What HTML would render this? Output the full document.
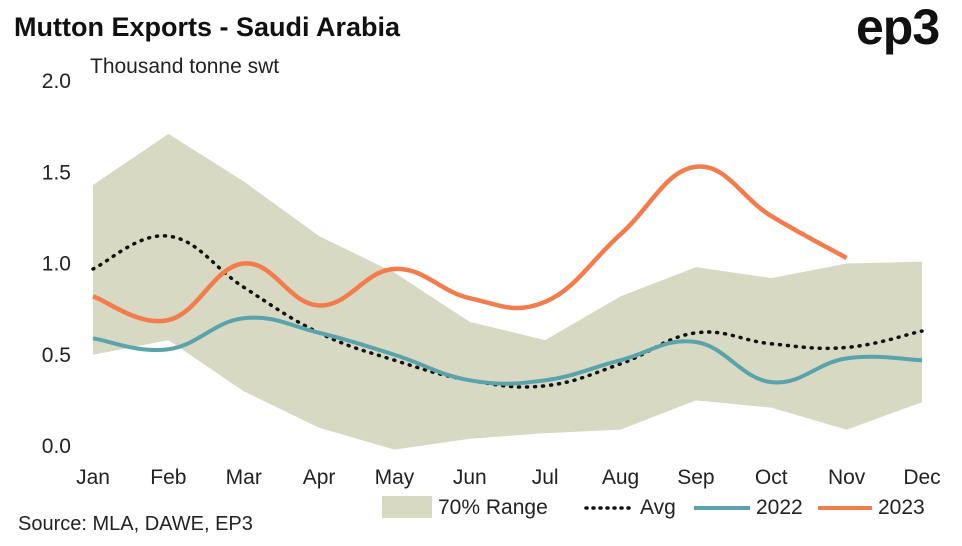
<!DOCTYPE html>
<html><head><meta charset="utf-8"><style>
body{margin:0;background:#fff;font-family:"Liberation Sans",sans-serif;}
svg text{font-family:"Liberation Sans",sans-serif;}
</style></head><body>
<svg id="c" width="962" height="541">
<text x="14" y="36" font-size="27" font-weight="bold" fill="#111">Mutton Exports - Saudi Arabia</text>
<text x="856" y="44" font-size="50" font-weight="bold" fill="#111" letter-spacing="-1">ep3</text>
<text x="90" y="73" font-size="21" fill="#222">Thousand tonne swt</text>
<text x="18" y="530" font-size="20" fill="#222">Source: MLA, DAWE, EP3</text>
<g id="plot"></g>
<g id="legend">
<rect x="382" y="496" width="50" height="22" fill="#d7d9c3"/>
<text x="438" y="514" font-size="21" fill="#222">70% Range</text>
<line x1="586" y1="508" x2="634" y2="508" stroke="#111" stroke-width="3.5" stroke-dasharray="1,6" stroke-linecap="round"/>
<text x="640" y="514" font-size="21" fill="#222">Avg</text>
<line x1="694" y1="508" x2="750" y2="508" stroke="#5ba3aa" stroke-width="4"/>
<text x="756" y="514" font-size="21" fill="#222">2022</text>
<line x1="818" y1="508" x2="872" y2="508" stroke="#f47c4c" stroke-width="4"/>
<text x="878" y="514" font-size="21" fill="#222">2023</text>
</g>
</svg>
<script>
const months=["Jan","Feb","Mar","Apr","May","Jun","Jul","Aug","Sep","Oct","Nov","Dec"];
const yTicks=[0,0.5,1,1.5,2];
const yTickLabels=["0.0","0.5","1.0","1.5","2.0"];
const rangeUpper=[1.43,1.71,1.45,1.15,0.95,0.68,0.58,0.82,0.98,0.92,1.00,1.01];
const rangeLower=[0.50,0.58,0.30,0.10,-0.02,0.04,0.07,0.09,0.25,0.21,0.09,0.24];
const avg=[0.97,1.15,0.87,0.62,0.47,0.36,0.33,0.45,0.62,0.56,0.54,0.63];
const s2022=[0.59,0.53,0.70,0.62,0.50,0.36,0.36,0.47,0.57,0.35,0.48,0.47];
const s2023=[0.82,0.69,1.00,0.77,0.97,0.81,0.79,1.16,1.53,1.26,1.03];
const NS="http://www.w3.org/2000/svg";
const plot=document.getElementById('plot');
const x=i=>93+i*(922-93)/11;
const y=v=>446-v*(446-81)/2;
function el(t,a){const e=document.createElementNS(NS,t);for(const k in a)e.setAttribute(k,a[k]);plot.appendChild(e);return e;}
function pts(arr){return arr.map((v,i)=>[x(i),y(v)]);}
function smooth(p){let d=`M${p[0][0]},${p[0][1]}`;
for(let i=0;i<p.length-1;i++){const p0=p[i-1]||p[i],p1=p[i],p2=p[i+1],p3=p[i+2]||p2;
const t=0.2;d+=` C${p1[0]+(p2[0]-p0[0])*t},${p1[1]+(p2[1]-p0[1])*t} ${p2[0]-(p3[0]-p1[0])*t},${p2[1]-(p3[1]-p1[1])*t} ${p2[0]},${p2[1]}`;}return d;}
const up=pts(rangeUpper),lo=pts(rangeLower).reverse();
let rd=`M${up.map(p=>p.join(',')).join(' L')} L${lo.map(p=>p.join(',')).join(' L')} Z`;
const r=el('path',{d:rd,fill:'#d7d9c3'});


yTicks.forEach((v,i)=>{const t=el('text',{x:71,y:y(v)+7,'font-size':21,fill:'#222','text-anchor':'end'});t.textContent=yTickLabels[i];

});
months.forEach((m,i)=>{const t=el('text',{x:x(i),y:484,'font-size':21,fill:'#222','text-anchor':'middle'});t.textContent=m;

});
const a=el('path',{d:smooth(pts(avg)),fill:'none',stroke:'#111','stroke-width':3.5,'stroke-dasharray':'1,7','stroke-linecap':'round'});


const l1=el('path',{d:smooth(pts(s2022)),fill:'none',stroke:'#5ba3aa','stroke-width':4});


const l2=el('path',{d:smooth(pts(s2023)),fill:'none',stroke:'#f47c4c','stroke-width':4.5});


</script>
</body></html>
